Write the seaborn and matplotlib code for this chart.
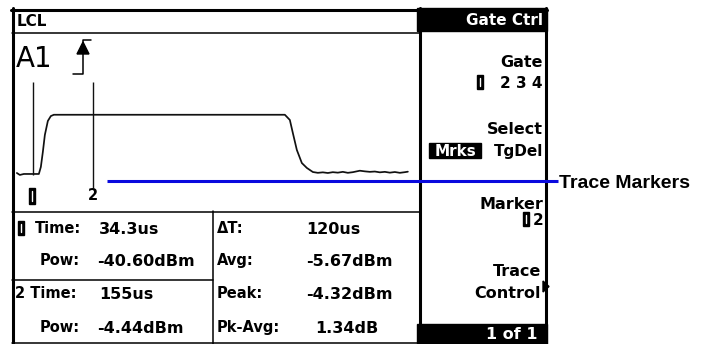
import matplotlib
matplotlib.use("Agg")
import matplotlib.pyplot as plt
import seaborn as sns
import pandas as pd
from matplotlib.patches import Rectangle, Polygon
from matplotlib.font_manager import FontProperties

# pulse trace (time in us, power in dBm)
trace_time_us = [2, 8, 16, 24, 34, 46, 50, 54, 58, 64, 70, 76, 150, 300, 450, 538,
                 548, 554, 562, 572, 582, 594, 604, 614, 624, 634, 644, 654, 664,
                 674, 688, 698, 708, 718, 728, 738, 748, 758, 768, 778, 784]
trace_pow_dbm = [-40.0, -41.2, -40.6, -40.6, -40.6, -40.6, -36.3, -27.1, -16.7, -8.1,
                 -5.1, -4.3, -4.3, -4.3, -4.3, -4.3,
                 -7.5, -15.5, -25.9, -33.9, -36.9, -39.4, -39.9, -39.6, -40.0, -39.5,
                 -39.8, -39.3, -39.9, -39.5, -38.6, -39.0, -39.3, -39.1, -39.6, -39.3,
                 -39.8, -39.4, -39.9, -39.5, -39.2]

marker_times_us = [34.3, 155]
marker_names = ["1", "2"]

left_labels = ["Time:", "Pow:", "2 Time:", "Pow:"]
left_values = ["34.3us", "-40.60dBm", "155us", "-4.44dBm"]
right_labels = ["\u0394T:", "Avg:", "Peak:", "Pk-Avg:"]
right_values = ["120us", "-5.67dBm", "-4.32dBm", "1.34dB"]

sns.set_style("white")
plt.rcParams['font.family'] = ['DejaVu Sans']

W, H = 709, 344
fig = plt.figure(figsize=(W / 100, H / 100), dpi=100)
fig.patch.set_facecolor("white")


def px_axes(x0, y0, x1, y1):
    return fig.add_axes([x0 / W, 1 - y1 / H, (x1 - x0) / W, (y1 - y0) / H])


# trace area
ax_tr = px_axes(14, 34, 419, 211)
df = pd.DataFrame({"t": trace_time_us, "p": trace_pow_dbm})
sns.lineplot(data=df, x="t", y="p", ax=ax_tr, color="#111111", lw=1.25)
ax_tr.set_xlim(-3.7, 806.3)
ax_tr.set_ylim(-63.3, 45.2)
ax_tr.axis("off")
ax_tr.set_zorder(1)

# overlay in pixel coords
ax = fig.add_axes([0, 0, 1, 1])
ax.set_xlim(0, W)
ax.set_ylim(H, 0)
ax.axis("off")
ax.set_zorder(2)


def inv_one(x, y, w=6, h=15):
    ax.add_patch(Rectangle((x - w / 2, y - h / 2), w, h, color="black", zorder=5))
    ax.plot([x, x], [y - h / 2 + 3, y + h / 2 - 3], color="white", lw=1.0, zorder=6)


def txt(x, yc, s, fs=11, ha="left", weight="bold", color="black", **kw):
    base = yc + 0.365 * fs * 100 / 72
    return ax.text(x, base, s, fontsize=fs, ha=ha, va="baseline", fontweight=weight,
                   color=color, **kw)


# markers on the trace
mk_top = [15.8, 15.8]
mk_bot = [-41.2, -49.2]
for t, name, lo, hi in zip(marker_times_us, marker_names, mk_bot, mk_top):
    ax_tr.vlines(t, lo, hi, color="#111111", lw=1.0)
xs = [14 + (t + 3.7) / 2 for t in marker_times_us]
inv_one(xs[0] - 1, 196, h=16)
txt(xs[1], 195, marker_names[1], fs=10.5, ha="center")

# frame
k = "black"
ax.plot([11, 547], [9.5, 9.5], color=k, lw=2.2)
ax.plot([12.5, 12.5], [8, 344], color=k, lw=2.2)
ax.plot([12, 420], [32.5, 32.5], color=k, lw=1.1)
ax.plot([12, 420], [211.5, 211.5], color=k, lw=1.1)
ax.plot([213, 213], [211, 344], color=k, lw=1.1)
ax.plot([12, 213], [280, 280], color=k, lw=1.1)
ax.plot([12, 420], [342.5, 342.5], color=k, lw=1.1)
ax.plot([420, 420], [8, 344], color=k, lw=2.2)
ax.plot([545.5, 545.5], [8, 344], color=k, lw=2.2)
ax.add_patch(Rectangle((417, 8), 130, 23, color=k))
ax.add_patch(Rectangle((417, 324), 130, 20, color=k))

# header and channel label
txt(17, 20, "LCL", fs=11)
txt(16, 57, "A1", fs=20, weight="normal")
ax.plot([73, 83, 83, 91], [74, 74, 39.5, 39.5], color=k, lw=1.1)
ax.add_patch(Polygon([(83, 42), (77, 54), (89, 54)], color=k))

# measurement table
rows_y = [228, 260, 293, 327]
label_x = [35, 40, 15, 40]
inv_one(20.5, 228, h=14)
for lab, val, lx, y in zip(left_labels, left_values, label_x, rows_y):
    txt(lx, y, lab, fs=10.5)
    txt(97 if val.startswith("-") else 99, y, val, fs=11.5)
for lab, val, y in zip(right_labels, right_values, rows_y):
    txt(217, y, lab, fs=10.5)
    txt(315 if lab.startswith("Pk") else 306, y, val, fs=11.5)

# softkey panel
txt(543, 19, "Gate Ctrl", fs=11, ha="right", color="white")
txt(543, 61, "Gate", fs=11.5, ha="right")
txt(543, 82, "2 3 4", fs=11, ha="right")
inv_one(479.5, 82, h=14)
txt(543, 128, "Select", fs=11.5, ha="right")
ax.add_patch(Rectangle((429, 143), 52, 15, color=k))
txt(455, 150, "Mrks", fs=11, ha="center", color="white")
txt(543, 150, "TgDel", fs=11, ha="right")
txt(543, 203, "Marker", fs=11.5, ha="right")
txt(543, 219, "2", fs=11, ha="right")
inv_one(525.5, 219, h=14)
txt(541, 270, "Trace", fs=11.5, ha="right")
txt(541, 292, "Control", fs=11.5, ha="right")
ax.add_patch(Polygon([(543, 281), (543, 292), (549, 286.5)], color=k))
txt(512, 333, "1 of 1", fs=11.5, ha="center", color="white")

# callout
ax.plot([107, 558], [180.5, 180.5], color="#0a0ade", lw=2.2, solid_capstyle="butt")
fp = FontProperties(family="Liberation Sans", weight="bold", size=14)
ax.text(559, 180.5 + 0.36 * 14 * 100 / 72, "Trace Markers", fontproperties=fp,
        color="black", va="baseline")

fig.savefig("out.png", dpi=100)
